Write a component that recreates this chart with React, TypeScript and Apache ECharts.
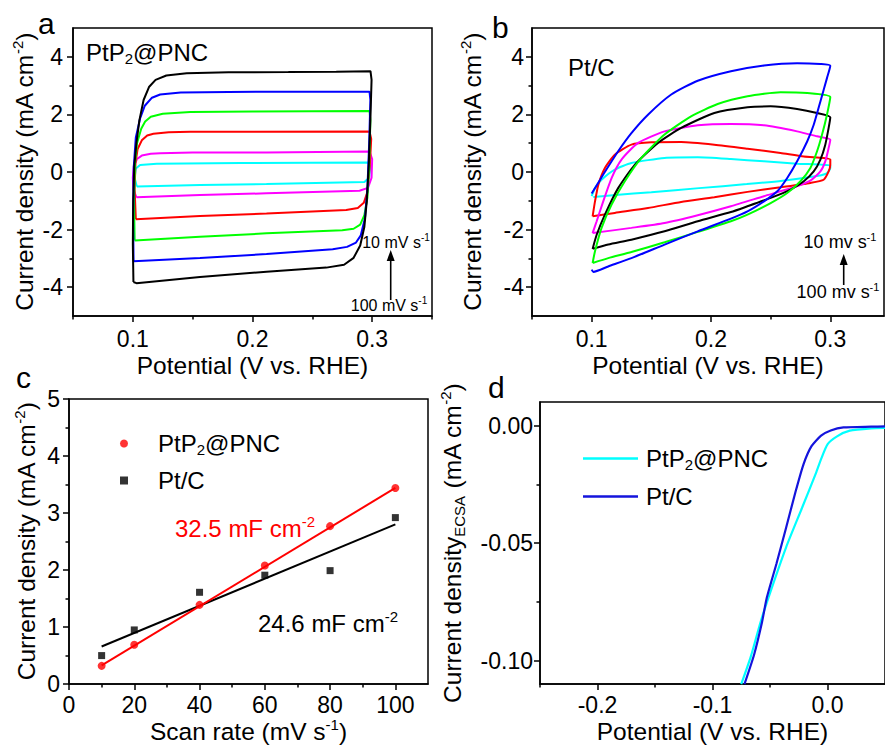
import React, { useEffect, useRef } from "react";
import * as echarts from "echarts";

const FONT = "'Liberation Sans', Arial, Helvetica, sans-serif";

// ---------- Panel a: PtP2@PNC CV loops [potential V, current mA cm-2] ----------
const aCV10 = [[0.1033,-0.5],[0.1015,-0.2],[0.1025,0.12],[0.1061,0.24],[0.12,0.29],[0.19,0.31],[0.2964,0.33],[0.2985,0.2],[0.2975,-0.2],[0.2935,-0.35],[0.2117,-0.42],[0.1561,-0.45],[0.1033,-0.5]];
const aCV20 = [[0.103,-0.88],[0.1005,-0.6],[0.1,-0.2],[0.1008,0.2],[0.1035,0.45],[0.1075,0.57],[0.115,0.63],[0.1228,0.65],[0.15,0.68],[0.2117,0.68],[0.2978,0.71],[0.3,0.45],[0.2995,-0.2],[0.2965,-0.55],[0.2894,-0.65],[0.2117,-0.74],[0.1561,-0.8],[0.103,-0.88]];
const aCV40 = [[0.1025,-1.64],[0.1015,-0.6],[0.1022,0.3],[0.104,0.8],[0.1075,1.1],[0.112,1.27],[0.1172,1.33],[0.13,1.38],[0.148,1.4],[0.2,1.4],[0.2978,1.41],[0.2992,1.15],[0.298,0.2],[0.296,-0.7],[0.293,-1.07],[0.288,-1.25],[0.2783,-1.32],[0.2117,-1.44],[0.1561,-1.53],[0.1025,-1.64]];
const aCV60 = [[0.1015,-2.38],[0.101,-1.0],[0.1018,0.3],[0.1035,1.0],[0.107,1.5],[0.1103,1.75],[0.115,1.92],[0.125,2.02],[0.148,2.08],[0.2,2.1],[0.2978,2.12],[0.2985,1.8],[0.2975,0.2],[0.296,-0.9],[0.2935,-1.5],[0.29,-1.83],[0.2845,-1.97],[0.275,-2.02],[0.2117,-2.13],[0.1561,-2.25],[0.1015,-2.38]];
const aCV80 = [[0.1006,-3.1],[0.1002,-1.6],[0.1008,0.2],[0.1025,1.2],[0.106,1.85],[0.11,2.3],[0.116,2.58],[0.1228,2.69],[0.14,2.76],[0.18,2.78],[0.24,2.79],[0.2978,2.79],[0.2985,2.5],[0.2975,1.0],[0.296,-0.6],[0.294,-1.6],[0.2905,-2.2],[0.2865,-2.45],[0.279,-2.6],[0.267,-2.68],[0.2117,-2.85],[0.1561,-2.99],[0.1006,-3.1]];
const aCV100 = [[0.1005,-3.82],[0.1,-2.5],[0.1003,-1.0],[0.1012,0.2],[0.103,1.0],[0.1055,1.8],[0.109,2.5],[0.1135,2.95],[0.119,3.2],[0.128,3.35],[0.145,3.43],[0.18,3.46],[0.23,3.47],[0.27,3.48],[0.2986,3.5],[0.2995,3.2],[0.2985,1.8],[0.2972,0.3],[0.2955,-1.0],[0.2935,-1.9],[0.29,-2.55],[0.2845,-2.98],[0.2765,-3.22],[0.2617,-3.32],[0.2117,-3.46],[0.1561,-3.65],[0.103,-3.86],[0.1005,-3.82]];

// ---------- Panel b: Pt/C CV loops ----------
const bCyan = [[0.1,-0.84],[0.1028,-0.56],[0.1083,-0.27],[0.1194,0.08],[0.1333,0.31],[0.1611,0.49],[0.1889,0.51],[0.2167,0.45],[0.2444,0.37],[0.2722,0.29],[0.3,0.23],[0.3,0.14],[0.297,-0.05],[0.29,-0.13],[0.26,-0.3],[0.23,-0.42],[0.19,-0.56],[0.15,-0.7],[0.12,-0.8],[0.1014,-0.87]];
const bRed = [[0.1008,-1.54],[0.1028,-1.02],[0.1056,-0.44],[0.1111,0.14],[0.1194,0.6],[0.1333,0.95],[0.15,1.03],[0.175,1.04],[0.2028,0.95],[0.2306,0.81],[0.2583,0.66],[0.2778,0.54],[0.2944,0.49],[0.3,0.43],[0.3,0.25],[0.2986,0.02],[0.2944,-0.27],[0.2833,-0.38],[0.2583,-0.53],[0.2306,-0.69],[0.2028,-0.88],[0.175,-1.04],[0.1472,-1.25],[0.1194,-1.42],[0.1008,-1.54]];
const bMagenta = [[0.1008,-2.12],[0.1042,-1.71],[0.1097,-1.02],[0.1167,-0.21],[0.125,0.43],[0.1389,1.01],[0.1611,1.41],[0.1889,1.62],[0.2167,1.67],[0.2444,1.62],[0.2722,1.41],[0.2889,1.24],[0.3,1.12],[0.2986,0.83],[0.2958,0.37],[0.2917,0.02],[0.2833,-0.3],[0.2694,-0.53],[0.2444,-0.84],[0.2167,-1.19],[0.1889,-1.5],[0.1611,-1.77],[0.1333,-1.94],[0.1008,-2.12]];
const bBlack = [[0.1008,-2.67],[0.1042,-2.18],[0.1111,-1.48],[0.1222,-0.56],[0.1361,0.25],[0.1556,1.01],[0.175,1.53],[0.2028,2.05],[0.2306,2.25],[0.25,2.28],[0.2722,2.19],[0.2889,2.05],[0.3,1.9],[0.2986,1.53],[0.2958,0.95],[0.2917,0.43],[0.2861,0.02],[0.2778,-0.32],[0.2667,-0.61],[0.25,-0.9],[0.2306,-1.19],[0.2167,-1.39],[0.1889,-1.71],[0.1611,-2.06],[0.1333,-2.35],[0.1139,-2.52],[0.1008,-2.67]];
const bGreen = [[0.1008,-3.16],[0.1028,-2.75],[0.1083,-1.94],[0.1167,-1.13],[0.1278,-0.32],[0.1417,0.49],[0.1611,1.3],[0.1833,1.93],[0.2056,2.36],[0.2306,2.63],[0.2583,2.77],[0.2806,2.74],[0.3,2.6],[0.2972,1.99],[0.2931,1.3],[0.2889,0.72],[0.2833,0.14],[0.275,-0.32],[0.2639,-0.73],[0.25,-1.08],[0.2306,-1.48],[0.2167,-1.71],[0.1889,-2.08],[0.1611,-2.44],[0.1333,-2.78],[0.1139,-2.99],[0.1008,-3.16]];
const bBlue = [[0.1,-0.75],[0.1097,-0.09],[0.1222,0.72],[0.1333,1.35],[0.1472,1.99],[0.1667,2.69],[0.1889,3.17],[0.2167,3.5],[0.2444,3.7],[0.2722,3.78],[0.2917,3.75],[0.3,3.69],[0.2972,3.26],[0.2917,2.45],[0.2861,1.64],[0.2806,1.06],[0.2722,0.37],[0.2639,-0.21],[0.2556,-0.67],[0.2444,-1.02],[0.2306,-1.37],[0.2167,-1.62],[0.1889,-2.06],[0.1611,-2.52],[0.1333,-2.99],[0.1139,-3.28],[0.1014,-3.47],[0.1,-3.39]];

// ---------- Panel c: scan-rate dependence ----------
const scanRates = [10, 20, 40, 60, 80, 100];
const cPtP2 = [0.32, 0.69, 1.39, 2.08, 2.77, 3.44];
const cPtC = [0.5, 0.95, 1.61, 1.91, 1.99, 2.92];
const cFitPtP2 = [[10, 0.33], [100, 3.44]];
const cFitPtC = [[10, 0.66], [100, 2.8]];

// ---------- Panel d: ECSA-normalised LSV ----------
const dPtP2 = [[-0.075,-0.11],[-0.0667,-0.0983],[-0.0583,-0.0838],[-0.05,-0.0713],[-0.036,-0.0518],[-0.0222,-0.0351],[-0.0097,-0.0198],[-0.0056,-0.0143],[0,-0.008],[0.0083,-0.0046],[0.0194,-0.0022],[0.038,-0.0012],[0.05,-0.001]];
const dPtC = [[-0.0722,-0.11],[-0.0639,-0.0976],[-0.057,-0.0838],[-0.0528,-0.0733],[-0.0444,-0.0588],[-0.036,-0.0435],[-0.0278,-0.0282],[-0.0208,-0.0164],[-0.0139,-0.0088],[-0.0056,-0.0043],[0.0028,-0.0021],[0.0139,-0.0008],[0.038,-0.0005],[0.05,-0.0004]];

// ---------- tick values ----------
const abXMajor = [0.1, 0.2, 0.3];
const abXMinor = [0.05, 0.15, 0.25, 0.35];
const abYMajor = [-4, -2, 0, 2, 4];
const abYMinor = [-3, -1, 1, 3];
const cXMajor = [0, 20, 40, 60, 80, 100];
const cXMinor = [10, 30, 50, 70, 90];
const cYMajor = [0, 1, 2, 3, 4, 5];
const cYMinor = [0.5, 1.5, 2.5, 3.5, 4.5];
const dXMajor = [-0.2, -0.1, 0.0];
const dXMinor = [-0.25, -0.15, -0.05];
const dYMajor = [0, -0.05, -0.1];
const dYMinor = [-0.025, -0.075];

const TITLE_SIZE = 24.5;
const TICK_SIZE = 23;

const RICH = {
  sup: { fontSize: 15, verticalAlign: "top", fontFamily: FONT, color: "#000", lineHeight: 15 },
  sub: { fontSize: 15, verticalAlign: "bottom", fontFamily: FONT, color: "#000", lineHeight: 15 },
};

function axisPair(kind, grid, min, max, major, minor, fmt, name, nameGap, margin) {
  const pos = kind === "x" ? "bottom" : "left";
  const main = {
    type: "value", gridIndex: grid, position: pos, min, max,
    name, nameLocation: "middle", nameGap,
    nameTextStyle: { fontFamily: FONT, fontSize: TITLE_SIZE, color: "#000", lineHeight: 29, rich: RICH },
    axisLine: { show: true, onZero: false, lineStyle: { color: "#000", width: 1.5 } },
    axisTick: { show: true, inside: false, length: 6, customValues: major, lineStyle: { color: "#000", width: 1.5 } },
    minorTick: { show: false },
    axisLabel: { show: true, customValues: major, formatter: fmt, margin, fontFamily: FONT, fontSize: TICK_SIZE, color: "#000" },
    splitLine: { show: false },
  };
  const minorAxis = {
    type: "value", gridIndex: grid, position: pos, min, max,
    axisLine: { show: false, onZero: false },
    axisTick: { show: true, inside: false, length: 3.5, customValues: minor, lineStyle: { color: "#000", width: 1.5 } },
    axisLabel: { show: false },
    splitLine: { show: false },
  };
  return [main, minorAxis];
}

const f1 = (v) => Number(v).toFixed(1);
const f2 = (v) => Number(v).toFixed(2);
const f0 = (v) => String(Math.round(Number(v)));

const yTitle = "Current density (mA cm{sup|-2})";
const xTitle = "Potential (V vs. RHE)";

const gridStyle = { show: true, borderColor: "#000", borderWidth: 1.5, backgroundColor: "transparent" };

function cv(data, color, xi, yi, smooth = 0) {
  return {
    type: "line", data, xAxisIndex: xi, yAxisIndex: yi, symbol: "none", showSymbol: false, smooth,
    lineStyle: { color, width: 2 }, itemStyle: { color }, silent: true,
  };
}

function legendFmt(name) {
  const n = name.slice(2);
  return n.indexOf("PtP2") === 0 ? "PtP{sub|2}@PNC" : n;
}

function txt(x, y, text, size, color = "#000", align = "left") {
  const s = Math.round(size * 0.62);
  return {
    type: "text", x, y, silent: true,
    style: { text, fill: color, fontSize: size, fontFamily: FONT, align, verticalAlign: "middle", lineHeight: size + 4,
      rich: {
        sup: { fontSize: s, verticalAlign: "top", fill: color, fontFamily: FONT, lineHeight: s },
        sub: { fontSize: s, verticalAlign: "bottom", fill: color, fontFamily: FONT, lineHeight: s },
      } },
  };
}

function arrow(x, yBottom, yTop) {
  return [
    { type: "line", silent: true, shape: { x1: x, y1: yBottom, x2: x, y2: yTop + 8 }, style: { stroke: "#000", lineWidth: 1.6 } },
    { type: "polygon", silent: true, shape: { points: [[x - 4, yTop + 11], [x + 4, yTop + 11], [x, yTop]] }, style: { fill: "#000" } },
  ];
}

const option = {
  animation: false,
  backgroundColor: "#fff",
  textStyle: { fontFamily: FONT },
  grid: [
    { left: 73, top: 28, width: 359, height: 288, ...gridStyle },
    { left: 532, top: 28, width: 352, height: 288, ...gridStyle },
    { left: 69, top: 399, width: 359, height: 288, ...gridStyle },
    { left: 540, top: 402, width: 359, height: 288, ...gridStyle },
  ],
  xAxis: [
    ...axisPair("x", 0, 0.05, 0.35, abXMajor, abXMinor, f1, xTitle, 34, 11),
    ...axisPair("x", 1, 0.05, 0.345, abXMajor, abXMinor, f1, xTitle, 34, 11),
    ...axisPair("x", 2, 0, 110, cXMajor, cXMinor, f0, "Scan rate (mV s{sup|-1})", 30, 9),
    ...axisPair("x", 3, -0.25, 0.05, dXMajor, dXMinor, f1, xTitle, 32, 9),
  ],
  yAxis: [
    ...axisPair("y", 0, -5, 5, abYMajor, abYMinor, f0, yTitle, 32, 10),
    ...axisPair("y", 1, -5, 5, abYMajor, abYMinor, f0, yTitle, 45, 8),
    ...axisPair("y", 2, 0, 5, cYMajor, cYMinor, f0, yTitle, 28, 9),
    ...axisPair("y", 3, -0.11, 0.01, dYMajor, dYMinor, f2, "Current density{sub|ECSA} (mA cm{sup|-2})", 73, 7),
  ],
  legend: [
    {
      data: ["c-PtP2@PNC", "c-Pt/C"], orient: "vertical", left: 115, top: 425,
      itemWidth: 8, itemHeight: 8, itemGap: 10, selectedMode: false, formatter: legendFmt,
      textStyle: { fontFamily: FONT, fontSize: 24, color: "#000", lineHeight: 27, padding: [0, 0, 0, 25], rich: RICH },
    },
    {
      data: [
        { name: "d-PtP2@PNC", icon: "rect" },
        { name: "d-Pt/C", icon: "rect" },
      ],
      orient: "vertical", left: 578, top: 440,
      itemWidth: 55, itemHeight: 2.5, itemGap: 11, selectedMode: false, formatter: legendFmt,
      textStyle: { fontFamily: FONT, fontSize: 24, color: "#000", lineHeight: 27, padding: [0, 0, 0, 3], rich: RICH },
    },
  ],
  series: [
    cv(aCV10, "#00FFFF", 0, 0),
    cv(aCV20, "#FF00FF", 0, 0),
    cv(aCV40, "#FF0000", 0, 0),
    cv(aCV60, "#00FF00", 0, 0),
    cv(aCV80, "#0000FF", 0, 0),
    cv(aCV100, "#000000", 0, 0),
    cv(bCyan, "#00FFFF", 2, 2, 0.2),
    cv(bRed, "#FF0000", 2, 2, 0.2),
    cv(bMagenta, "#FF00FF", 2, 2, 0.2),
    cv(bBlack, "#000000", 2, 2, 0.2),
    cv(bGreen, "#00FF00", 2, 2, 0.2),
    cv(bBlue, "#0000FF", 2, 2, 0.2),
    { type: "line", data: cFitPtC, xAxisIndex: 4, yAxisIndex: 4, symbol: "none", lineStyle: { color: "#000", width: 2 }, silent: true },
    { type: "line", data: cFitPtP2, xAxisIndex: 4, yAxisIndex: 4, symbol: "none", lineStyle: { color: "#FF0000", width: 2 }, silent: true },
    { name: "c-PtP2@PNC", type: "scatter", xAxisIndex: 4, yAxisIndex: 4, symbol: "circle", symbolSize: 8,
      data: scanRates.map((r, i) => [r, cPtP2[i]]), itemStyle: { color: "#FF0000" }, z: 5 },
    { name: "c-Pt/C", type: "scatter", xAxisIndex: 4, yAxisIndex: 4, symbol: "rect", symbolSize: 7,
      data: scanRates.map((r, i) => [r, cPtC[i]]), itemStyle: { color: "#000" }, z: 5 },
    { name: "d-PtP2@PNC", type: "line", data: dPtP2, xAxisIndex: 6, yAxisIndex: 6, symbol: "none", smooth: 0.2,
      lineStyle: { color: "#00FFFF", width: 2.2 }, itemStyle: { color: "#00FFFF" } },
    { name: "d-Pt/C", type: "line", data: dPtC, xAxisIndex: 6, yAxisIndex: 6, symbol: "none", smooth: 0.2,
      lineStyle: { color: "#1414DC", width: 2.2 }, itemStyle: { color: "#1414DC" } },
  ],
  graphic: {
    elements: [
      txt(38, 23, "a", 30),
      txt(492, 27, "b", 30),
      txt(16, 377, "c", 30),
      txt(488, 387, "d", 30),
      txt(86, 52, "PtP{sub|2}@PNC", 24),
      txt(568, 67, "Pt/C", 24),
      txt(396, 242, "10 mV s{sup|-1}", 16, "#000", "center"),
      txt(389, 305, "100 mV s{sup|-1}", 16, "#000", "center"),
      ...arrow(390.7, 300, 250),
      txt(840, 242, "10 mv s{sup|-1}", 18, "#000", "center"),
      txt(838, 292, "100 mv s{sup|-1}", 18, "#000", "center"),
      ...arrow(843.7, 285, 254),
      txt(175, 528, "32.5 mF cm{sup|-2}", 24, "#FF0000"),
      txt(258, 623, "24.6 mF cm{sup|-2}", 24, "#000"),
    ],
  },
};

export default function App() {
  const ref = useRef<HTMLDivElement>(null);
  useEffect(() => {
    const chart = echarts.init(ref.current as HTMLDivElement, undefined, { renderer: "svg", width: 885, height: 747 });
    chart.setOption(option as any);
    return () => chart.dispose();
  }, []);
  return (
    <div
      ref={ref}
      style={{ position: "absolute", left: 0, top: 0, width: 885, height: 747, overflow: "hidden", background: "#fff" }}
    />
  );
}
